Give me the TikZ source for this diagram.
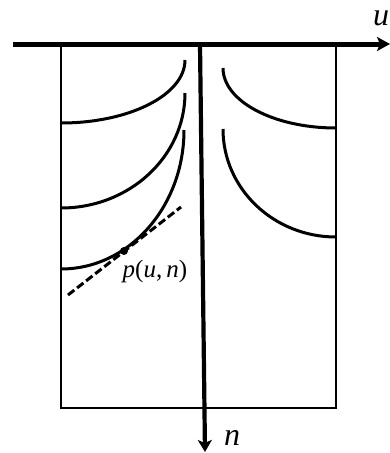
\documentclass[tikz,border=0pt]{standalone}
\usepackage{fontspec}
\setmainfont{Liberation Serif}
\usetikzlibrary{arrows.meta}
\begin{document}
\begin{tikzpicture}[x=1pt,y=-1pt,
  axisline/.style={line width=5pt,-{Stealth[length=13pt,width=14pt,inset=3pt]}},
  vaxisline/.style={line width=4.2pt,-{Stealth[length=12pt,width=14pt,inset=3pt]}},
  frame/.style={line width=2.2pt},
  level/.style={line width=3pt},
  tangent/.style={line width=3pt,dash pattern=on 8pt off 3.5pt},
  biglabel/.style={inner sep=0pt,anchor=base,font=\fontsize{32}{34}\selectfont\itshape},
  ptlabel/.style={inner sep=0pt,anchor=base,font=\fontsize{25}{27}\selectfont}]
\useasboundingbox (0,0) rectangle (390,453);
% frame
\draw[frame] (61,44) rectangle (336,408);
% level curves left
\draw[level] (61,123) arc[start angle=90,end angle=0,x radius=124,y radius=63];
\draw[level] (61,208) arc[start angle=90,end angle=0,x radius=124,y radius=115];
\draw[level] (61,269) arc[start angle=90,end angle=0,x radius=123,y radius=139];
% level curves right
\draw[level] (223,68) arc[start angle=180,end angle=90,x radius=113,y radius=60];
\draw[level] (223,129) arc[start angle=180,end angle=90,x radius=113,y radius=108];
% axes
\coordinate (ustart) at (13,44);
\coordinate (uend) at (390,44);
\coordinate (nstart) at (200,44);
\coordinate (nend) at (205,452);
\draw[axisline] (ustart) -- (uend);
\draw[vaxisline] (nstart) -- (nend);
\node[biglabel] (ulab) at (381,25) {u};
\node[biglabel] (nlab) at (232,445) {n};
% tangent and point
\coordinate (t1) at (68,295);
\coordinate (t2) at (181,207);
\draw[tangent] (t1) -- (t2);
\node[circle,fill=black,inner sep=0pt,minimum size=8pt] (p) at (124,251) {};
\node[ptlabel] (plab) at (155,277) {\textit{p}(\textit{u},\,\textit{n})};
\end{tikzpicture}
\end{document}
